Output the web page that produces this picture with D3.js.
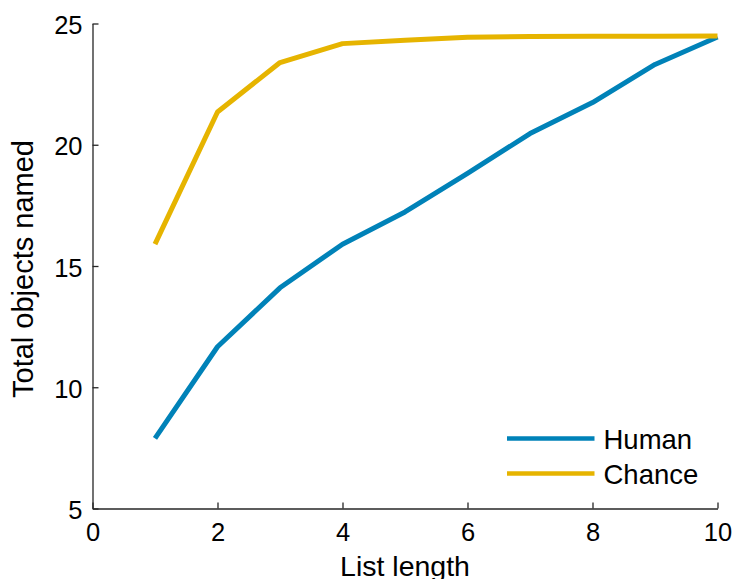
<!DOCTYPE html>
<html>
<head>
<meta charset="utf-8">
<script src="https://cdn.jsdelivr.net/npm/d3@7"></script>
<style>
  html, body { margin: 0; padding: 0; background: #fff; }
  svg { display: block; font-family: "Liberation Sans", Arial, Helvetica, sans-serif; }
</style>
</head>
<body>
<svg id="chart" width="734" height="579"></svg>
<script>
const listLength = [1, 2, 3, 4, 5, 6, 7, 8, 9, 10];
const human  = [7.89, 11.67, 14.10, 15.90, 17.23, 18.82, 20.46, 21.74, 23.31, 24.44];
const chance = [15.90, 21.35, 23.39, 24.17, 24.31, 24.43, 24.46, 24.47, 24.47, 24.48];
const seriesNames = ["Human", "Chance"];
const seriesColors = ["#0082B8", "#E6B400"];
const xTicks = [0, 2, 4, 6, 8, 10];
const yTicks = [5, 10, 15, 20, 25];
const xLabel = "List length";
const yLabel = "Total objects named";

(function () {
const svg = d3.select("#chart");
const mLeft = 92.5, mRight = 717.5, mTop = 23.5, mBottom = 508.5;

const x = d3.scaleLinear().domain([0, 10]).range([mLeft, mRight]);
const y = d3.scaleLinear().domain([5, 25]).range([mBottom, mTop]);

// axes
const xAxis = d3.axisBottom(x).tickValues(xTicks).tickSizeInner(-6).tickSizeOuter(0).tickPadding(14);
const yAxis = d3.axisLeft(y).tickValues(yTicks).tickSizeInner(-6).tickSizeOuter(0).tickPadding(10);

const gx = svg.append("g").attr("transform", `translate(0,${mBottom})`).call(xAxis);
const gy = svg.append("g").attr("transform", `translate(${mLeft},0)`).call(yAxis);

[gx, gy].forEach(g => {
  g.select(".domain").attr("stroke", "#262626").attr("stroke-width", 1.3);
  g.selectAll(".tick line").attr("stroke", "#262626").attr("stroke-width", 1.3);
  g.selectAll(".tick text").attr("fill", "#000").attr("font-size", 25.5)
   .attr("font-family", "'Liberation Sans', Arial, sans-serif");
});
gx.selectAll(".tick text").attr("dy", "0.71em");
gy.selectAll(".tick text").attr("dy", "0.4em");

// axis labels
svg.append("text")
  .attr("x", (mLeft + mRight) / 2).attr("y", 576)
  .attr("text-anchor", "middle").attr("font-size", 28.5).attr("fill", "#000")
  .text(xLabel);

svg.append("text")
  .attr("transform", `translate(32.5,${(mTop + mBottom) / 2 + 3}) rotate(-90)`)
  .attr("text-anchor", "middle").attr("font-size", 29).attr("fill", "#000")
  .text(yLabel);

// lines
const line = d3.line().x((d, i) => x(listLength[i])).y(d => y(d));
[human, chance].forEach((vals, k) => {
  svg.append("path")
    .datum(vals)
    .attr("d", line)
    .attr("fill", "none")
    .attr("stroke", seriesColors[k])
    .attr("stroke-width", 5)
    .attr("stroke-linejoin", "round")
    .attr("stroke-linecap", "butt");
});

// legend
const legend = svg.append("g");
seriesNames.forEach((name, k) => {
  const ly = 438.5 + k * 35;
  legend.append("line")
    .attr("x1", 507).attr("x2", 594.5).attr("y1", ly).attr("y2", ly)
    .attr("stroke", seriesColors[k]).attr("stroke-width", 4.5);
  legend.append("text")
    .attr("x", 603.5).attr("y", ly + 10)
    .attr("font-size", 27.5).attr("fill", "#000")
    .text(name);
});
})();
</script>
</body>
</html>
